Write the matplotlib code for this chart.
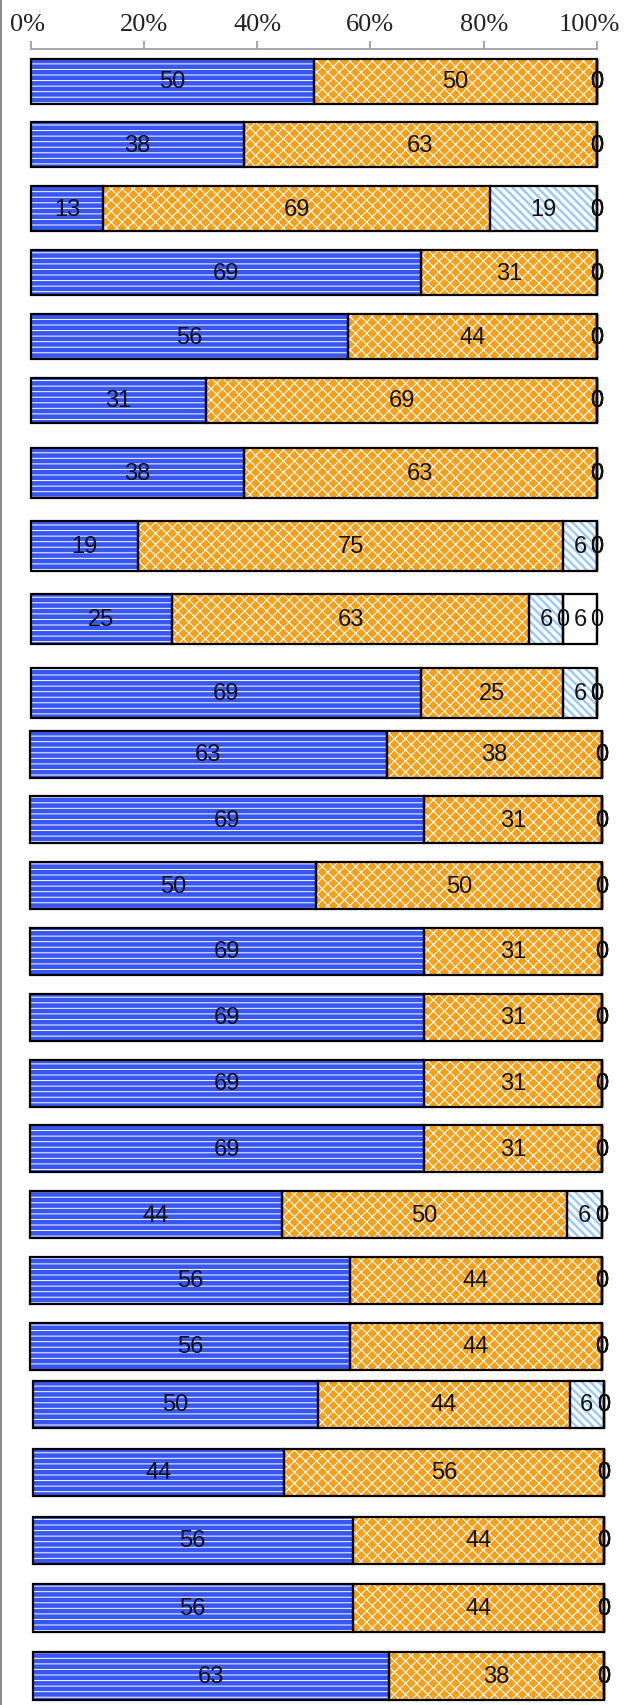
import matplotlib
matplotlib.use('Agg')
import matplotlib.pyplot as plt
import matplotlib.transforms as mtransforms
from matplotlib.lines import Line2D
import numpy as np

# ---------------- data (labels as shown, 100% stacked) ----------------
s_blue   = [50, 38, 13, 69, 56, 31, 38, 19, 25, 69, 63, 69, 50, 69, 69, 69, 69, 44, 56, 56, 50, 44, 56, 56, 63]
s_orange = [50, 63, 69, 31, 44, 69, 63, 75, 63, 25, 38, 31, 50, 31, 31, 31, 31, 50, 44, 44, 44, 56, 44, 44, 38]
s_lblue  = [0, 0, 19, 0, 0, 0, 0, 6, 6, 6, 0, 0, 0, 0, 0, 0, 0, 6, 0, 0, 6, 0, 0, 0, 0]
s_gap    = [0, 0, 0, 0, 0, 0, 0, 0, 0, 0, 0, 0, 0, 0, 0, 0, 0, 0, 0, 0, 0, 0, 0, 0, 0]
s_white  = [0, 0, 0, 0, 0, 0, 0, 0, 6, 0, 0, 0, 0, 0, 0, 0, 0, 0, 0, 0, 0, 0, 0, 0, 0]
s_end    = [0, 0, 0, 0, 0, 0, 0, 0, 0, 0, 0, 0, 0, 0, 0, 0, 0, 0, 0, 0, 0, 0, 0, 0, 0]
tick_vals = [0, 20, 40, 60, 80, 100]
tick_labels = ['0%', '20%', '40%', '60%', '80%', '100%']

series = [s_blue, s_orange, s_lblue, s_gap, s_white, s_end]
# (face colour, hatch colour, hatch, hatch linewidth)
styles = [
    ('#3857F2', '#FFFFFF', '---', 0.7),
    ('#F6A01A', '#FFFFFF', 'xxx', 0.8),
    ('#FFFFFF', '#9CCAF5', '\\\\\\\\', 1.8),
    ('#FFFFFF', '#FFFFFF', '', 1.0),
    ('#FFFFFF', '#FFFFFF', '', 1.0),
    ('#FFFFFF', '#FFFFFF', '', 1.0),
]

vals = np.array(series, dtype=float)          # (nseries, nbars)
totals = vals.sum(axis=0)
pct = vals / totals * 100.0

# ---------------- layout (pixels) ----------------
W, H, DPI = 624, 1706, 100
# first bar idx, last bar idx, first centre, spacing, bar height, left, right
segments = [
    (0, 5, 82.0, 63.9, 45.0, 30.5, 597.0),
    (6, 9, 474.0, 73.2, 50.0, 30.5, 597.0),
    (10, 19, 755.0, 65.8, 47.0, 30.0, 601.7),
    (20, 24, 1405.5, 67.9, 47.5, 32.7, 604.0),
]

fig = plt.figure(figsize=(W / DPI, H / DPI), dpi=DPI)
fig.patch.set_facecolor('white')

label_font = ['Liberation Sans Narrow', 'Liberation Sans']

for si, (a, b, c0, sp, bh, left, right) in enumerate(segments):
    n = b - a + 1
    top = c0 - sp / 2
    bottom = c0 + (n - 1) * sp + sp / 2
    ax = fig.add_axes([left / W, 1 - bottom / H, (right - left) / W, (bottom - top) / H])
    ax.set_xlim(0, 100)
    ax.set_ylim(n - 0.5, -0.5)
    ax.patch.set_visible(False)
    y = np.arange(n)
    h = bh / sp
    cum = np.zeros(n)
    for k in range(len(series)):
        w = pct[k, a:b + 1]
        face, hc, hatch, hlw = styles[k]
        ax.barh(y, w, left=cum, height=h, color=face, linewidth=0, clip_on=False, zorder=1)
        if hatch:
            with plt.rc_context({'hatch.linewidth': hlw}):
                bars = ax.barh(y, w, left=cum, height=h, color='none', edgecolor=hc, hatch=hatch,
                               linewidth=0, clip_on=False, zorder=2)
                for p in bars:
                    if hasattr(p, 'set_hatch_linewidth'):
                        p.set_hatch_linewidth(hlw)
        ax.barh(y, w, left=cum, height=h, fill=False, edgecolor='black', linewidth=1.6,
                clip_on=False, zorder=3)
        for i in range(n):
            v = int(vals[k, a + i])
            ax.text(cum[i] + w[i] / 2, y[i], str(v), ha='center', va='center',
                    fontsize=17, family=label_font, color='#111111', zorder=5, clip_on=False)
        cum = cum + w

    for sname in ['left', 'right', 'bottom']:
        ax.spines[sname].set_visible(False)
    ax.set_yticks([])
    if si == 0:
        ax.spines['top'].set_visible(True)
        ax.spines['top'].set_color('#A0A0A0')
        ax.spines['top'].set_linewidth(1.3)
        ax.xaxis.tick_top()
        ax.set_xticks(tick_vals)
        ax.set_xticklabels(tick_labels, fontsize=19, family='Liberation Serif', color='#222222')
        ax.tick_params(axis='x', direction='out', length=6, width=1.3, color='#A0A0A0', pad=4)
        # keep the last label inside the figure
        last = ax.get_xticklabels()[-1]
        last.set_transform(last.get_transform() +
                           mtransforms.ScaledTranslation(-8 / DPI, 0, fig.dpi_scale_trans))
        first = ax.get_xticklabels()[0]
        first.set_transform(first.get_transform() +
                            mtransforms.ScaledTranslation(-3 / DPI, 0, fig.dpi_scale_trans))
    else:
        ax.spines['top'].set_visible(False)
        ax.set_xticks([])

fig.add_artist(Line2D([1.0 / W, 1.0 / W], [0, 1], transform=fig.transFigure,
                      color='#8C8C8C', linewidth=1.5))

fig.savefig('out.png', dpi=DPI, facecolor='white')
